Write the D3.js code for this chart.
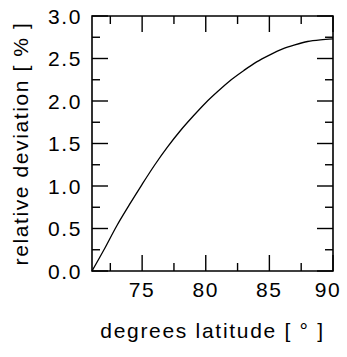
<!DOCTYPE html>
<html>
<head>
<meta charset="utf-8">
<script src="https://cdn.jsdelivr.net/npm/d3@7"></script>
<style>
  body { margin: 0; background: #fff; }
  text { font-family: "Liberation Sans", Arial, sans-serif; fill: #000; font-size: 21px; letter-spacing: 1.6px; }
</style>
</head>
<body>
<div id="chart"></div>
<script>
// values
var latitude = [71.06, 72, 73, 74, 75, 76, 77, 78, 79, 80, 81, 82, 83, 84, 85, 86, 87, 88, 89, 90];
var deviation = [0, 0.25, 0.53, 0.78, 1.02, 1.25, 1.46, 1.65, 1.82, 1.98, 2.12, 2.25, 2.36, 2.46, 2.54, 2.61, 2.66, 2.70, 2.72, 2.73];
var xTicks = [75, 80, 85, 90];
var xMinor = [72.5, 77.5, 82.5, 87.5];
var yTicks = [0, 0.5, 1.0, 1.5, 2.0, 2.5, 3.0];
var yMinor = [0.25, 0.75, 1.25, 1.75, 2.25, 2.75];

var m = {left: 92, right: 14, top: 16, bottom: 86};
var W = 347, H = 357;
var w = W - m.left - m.right;
var h = H - m.top - m.bottom;

var svg = d3.select("#chart")
  .append("svg")
  .attr("width", W)
  .attr("height", H)
  .append("g")
  .attr("transform", "translate(" + m.left + "," + m.top + ")");

var x = d3.scaleLinear().domain([71.06, 90]).range([0, w]);
var y = d3.scaleLinear().domain([0, 3]).range([h, 0]);

var major = 16, minor = 8, tw = 1.4;

// frame
svg.append("path")
  .attr("d", "M0,0H" + w + "V" + h + "H0Z")
  .attr("fill", "none")
  .attr("stroke", "#000")
  .attr("stroke-width", 1.6);

// the curve
var line = d3.line()
  .x((d, i) => x(latitude[i]))
  .y(d => y(d))
  .curve(d3.curveMonotoneX);

svg.append("path")
  .datum(deviation)
  .attr("d", line)
  .attr("fill", "none")
  .attr("stroke", "#000")
  .attr("stroke-width", 1.3);

// ticks on all four sides, pointing inward (drawn as thin rects)
var xt = xTicks.map(v => ({v: v, len: major})).concat(xMinor.map(v => ({v: v, len: minor})));
var yt = yTicks.map(v => ({v: v, len: major})).concat(yMinor.map(v => ({v: v, len: minor})));

var tg = svg.append("g").attr("fill", "#000");

tg.selectAll("rect.xb").data(xt).enter().append("rect")
  .attr("class", "xb")
  .attr("x", d => x(d.v) - tw / 2).attr("width", tw)
  .attr("y", d => h - d.len).attr("height", d => d.len);
tg.selectAll("rect.xt").data(xt).enter().append("rect")
  .attr("class", "xt")
  .attr("x", d => x(d.v) - tw / 2).attr("width", tw)
  .attr("y", 0).attr("height", d => d.len);
tg.selectAll("rect.yl").data(yt).enter().append("rect")
  .attr("class", "yl")
  .attr("y", d => y(d.v) - tw / 2).attr("height", tw)
  .attr("x", 0).attr("width", d => d.len);
tg.selectAll("rect.yr").data(yt).enter().append("rect")
  .attr("class", "yr")
  .attr("y", d => y(d.v) - tw / 2).attr("height", tw)
  .attr("x", d => w - d.len).attr("width", d => d.len);

// tick labels
svg.selectAll(".xlab").data(xTicks).enter().append("text")
  .attr("x", d => x(d) + (d == 90 ? -5 : 0))
  .attr("y", h + 26)
  .attr("text-anchor", "middle")
  .text(d => d);

svg.selectAll(".ylab").data(yTicks).enter().append("text")
  .attr("x", -10)
  .attr("y", d => y(d))
  .attr("dy", "0.36em")
  .attr("text-anchor", "end")
  .text(d => d.toFixed(1));

// axis titles
svg.append("text")
  .attr("x", w / 2)
  .attr("y", h + 67)
  .attr("text-anchor", "middle")
  .style("letter-spacing", "1.7px")
  .text("degrees latitude [ ° ]");

svg.append("text")
  .attr("transform", "translate(" + (28 - m.left) + "," + (h / 2) + ") rotate(-90)")
  .attr("text-anchor", "middle")
  .text("relative deviation [ % ]");
</script>
</body>
</html>
